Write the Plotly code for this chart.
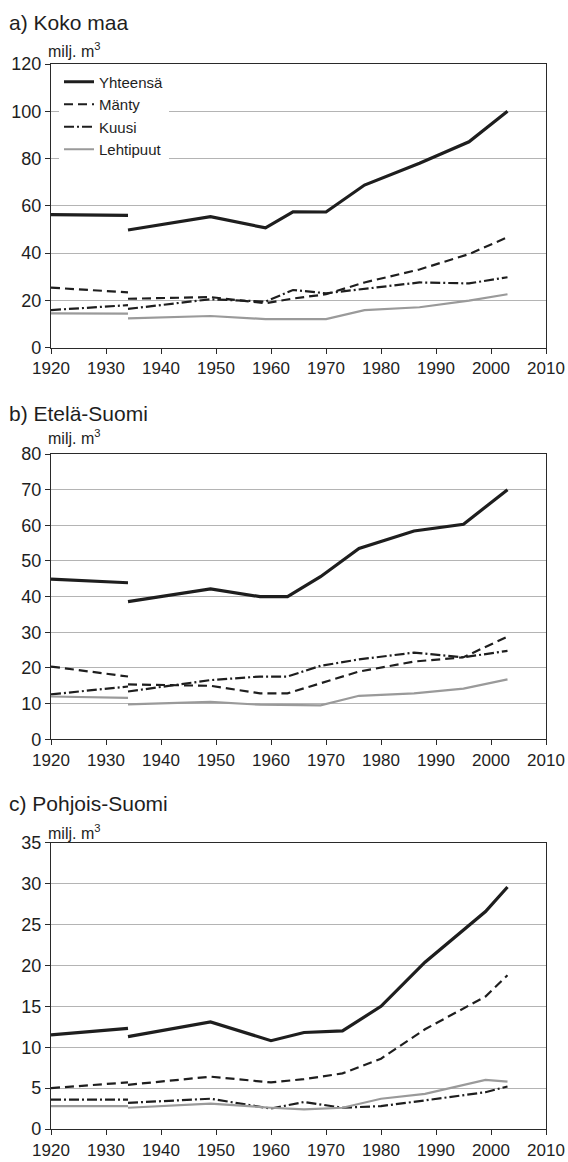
import plotly.graph_objects as go

# ---------------- data ----------------
YEARS_OLD = [1920, 1934]

# a) Koko maa
A_YEARS = [1934, 1949, 1959, 1964, 1970, 1977, 1987, 1996, 2003]
A_YHT_OLD = [56.3, 56.0]
A_MANTY_OLD = [25.4, 23.4]
A_KUUSI_OLD = [15.9, 18.0]
A_LEHTI_OLD = [14.5, 14.4]
A_YHT = [49.8, 55.4, 50.7, 57.5, 57.4, 68.8, 78.0, 87.1, 100.0]
A_MANTY = [20.7, 21.4, 18.8, 20.8, 22.6, 27.6, 33.1, 39.6, 46.7]
A_KUUSI = [16.4, 20.5, 19.5, 24.4, 23.0, 25.0, 27.6, 27.2, 29.8]
A_LEHTI = [12.4, 13.4, 12.1, 12.0, 12.1, 15.9, 17.1, 19.9, 22.6]

# b) Etelä-Suomi
B_YEARS = [1934, 1949, 1958, 1963, 1969, 1976, 1986, 1995, 2003]
B_YHT_OLD = [44.9, 43.9]
B_MANTY_OLD = [20.4, 17.6]
B_KUUSI_OLD = [12.6, 14.8]
B_LEHTI_OLD = [12.0, 11.6]
B_YHT = [38.6, 42.2, 40.0, 40.0, 45.6, 53.5, 58.4, 60.3, 70.0]
B_MANTY = [15.4, 15.0, 12.9, 12.9, 15.7, 19.0, 21.8, 23.0, 28.8]
B_KUUSI = [13.4, 16.6, 17.6, 17.6, 20.6, 22.4, 24.3, 23.0, 24.8]
B_LEHTI = [9.8, 10.5, 9.7, 9.7, 9.5, 12.2, 12.9, 14.2, 16.8]

# c) Pohjois-Suomi
C_YEARS = [1934, 1949, 1960, 1966, 1973, 1980, 1988, 1999, 2003]
C_YHT_OLD = [11.5, 12.3]
C_MANTY_OLD = [5.0, 5.7]
C_KUUSI_OLD = [3.6, 3.6]
C_LEHTI_OLD = [2.8, 2.8]
C_YHT = [11.3, 13.1, 10.8, 11.8, 12.0, 15.0, 20.4, 26.6, 29.6]
C_MANTY = [5.4, 6.4, 5.7, 6.1, 6.8, 8.6, 12.2, 16.2, 18.8]
C_KUUSI = [3.2, 3.7, 2.5, 3.3, 2.6, 2.8, 3.5, 4.5, 5.2]
C_LEHTI = [2.6, 3.1, 2.6, 2.4, 2.6, 3.7, 4.3, 6.0, 5.8]

SERIES_NAMES = ["Yhteensä", "Mänty", "Kuusi", "Lehtipuut"]
PANEL_TITLES = ["a) Koko maa", "b) Etelä-Suomi", "c) Pohjois-Suomi"]
UNIT_LABEL = "milj. m<sup>3</sup>"
X_TICKS = [1920, 1930, 1940, 1950, 1960, 1970, 1980, 1990, 2000, 2010]
Y_RANGES = [(0, 120, 20), (0, 80, 10), (0, 35, 5)]

PANELS = [
    (A_YEARS, [A_YHT_OLD, A_MANTY_OLD, A_KUUSI_OLD, A_LEHTI_OLD], [A_YHT, A_MANTY, A_KUUSI, A_LEHTI]),
    (B_YEARS, [B_YHT_OLD, B_MANTY_OLD, B_KUUSI_OLD, B_LEHTI_OLD], [B_YHT, B_MANTY, B_KUUSI, B_LEHTI]),
    (C_YEARS, [C_YHT_OLD, C_MANTY_OLD, C_KUUSI_OLD, C_LEHTI_OLD], [C_YHT, C_MANTY, C_KUUSI, C_LEHTI]),
]

# ---------------- styling ----------------
FONT = "Liberation Sans, Arial, sans-serif"
STYLES = [
    dict(color="#1e1e1e", width=3.2, dash="solid"),
    dict(color="#1e1e1e", width=2.2, dash="9px,5px"),
    dict(color="#1e1e1e", width=2.2, dash="10px,3px,2px,3px"),
    dict(color="#9a9a9a", width=2.2, dash="solid"),
]

W, H = 568, 1162
ML, MR, MT, MB = 51, 22, 64, 33
PH = H - MT - MB


def py(px):
    """pixel from top -> paper y"""
    return (H - MB - px) / PH


def px_x(px):
    return (px - ML) / (W - ML - MR)


DOMAINS = [(py(347.7), 1.0), (py(739.3), py(454)), (0.0, py(842.8))]

fig = go.Figure()

for i, (years, olds, news) in enumerate(PANELS):
    xa = "x" if i == 0 else f"x{i+1}"
    ya = "y" if i == 0 else f"y{i+1}"
    for j, name in enumerate(SERIES_NAMES):
        xs = YEARS_OLD + [None] + years
        ys = olds[j] + [None] + news[j]
        fig.add_trace(go.Scatter(
            x=xs, y=ys, mode="lines", name=name,
            line=STYLES[j], connectgaps=False,
            showlegend=(i == 0), xaxis=xa, yaxis=ya,
            hoverinfo="skip",
        ))

axis_common = dict(
    showline=True, linecolor="#2a2a2a", linewidth=1.3, mirror=True,
    ticks="outside", ticklen=5, tickcolor="#2a2a2a", tickwidth=1.2,
    tickfont=dict(family=FONT, size=17, color="#1e1e1e"),
    zeroline=False, automargin=False,
)

layout = dict(
    width=W, height=H,
    margin=dict(l=ML, r=MR, t=MT, b=MB, pad=0, autoexpand=False),
    paper_bgcolor="white", plot_bgcolor="white",
    showlegend=True,
    legend=dict(
        x=px_x(59), y=py(65.5), xanchor="left", yanchor="top",
        bgcolor="white", borderwidth=0,
        font=dict(family=FONT, size=15, color="#1e1e1e"),
        tracegroupgap=0, itemwidth=30,
    ),
)

annotations = []
title_y = [23, 413, 803]
unit_y = [50, 437, 832]
for i in range(3):
    sfx = "" if i == 0 else str(i + 1)
    y0, y1, dy = Y_RANGES[i]
    layout[f"xaxis{sfx}"] = dict(
        axis_common, domain=[0, 1], range=[1920, 2010],
        tickvals=X_TICKS, showgrid=False, anchor=f"y{sfx}",
    )
    layout[f"yaxis{sfx}"] = dict(
        axis_common, domain=list(DOMAINS[i]), range=[y0, y1],
        tickvals=list(range(y0, y1 + 1, dy)), showgrid=True,
        gridcolor="#b4b4b4", gridwidth=1, anchor=f"x{sfx}",
        tickfont=dict(family=FONT, size=18, color="#1e1e1e"),
    )
    annotations.append(dict(
        text=PANEL_TITLES[i], xref="paper", yref="paper",
        x=px_x(7), y=py(title_y[i]), xanchor="left", yanchor="middle",
        showarrow=False, font=dict(family=FONT, size=21, color="#1e1e1e"),
    ))
    annotations.append(dict(
        text=UNIT_LABEL, xref="paper", yref="paper",
        x=px_x(46), y=py(unit_y[i]), xanchor="left", yanchor="middle",
        showarrow=False, font=dict(family=FONT, size=16, color="#1e1e1e"),
    ))

layout["annotations"] = annotations
fig.update_layout(**layout)

fig.write_html(
    "out.html",
    config={"displayModeBar": False},
    post_script="document.body.style.margin='0';document.body.style.padding='0';",
)
